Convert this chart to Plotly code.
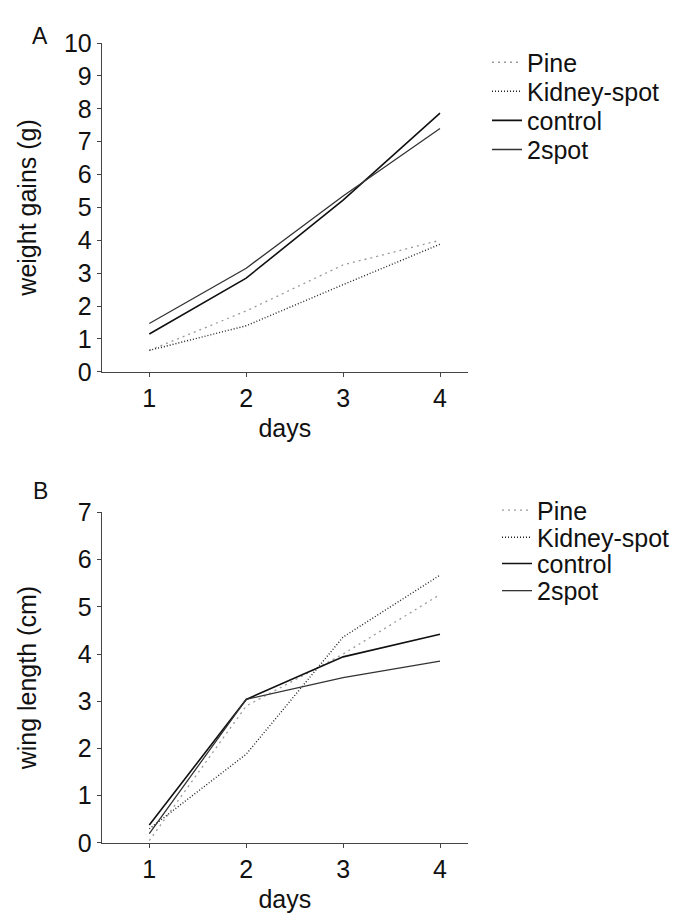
import plotly.graph_objects as go

days = [1, 2, 3, 4]
series_names = ["Pine", "Kidney-spot", "control", "2spot"]

# Panel A: weight gains (g)
weight_pine = [0.65, 1.85, 3.25, 4.0]
weight_kidney = [0.65, 1.4, 2.65, 3.88]
weight_control = [1.15, 2.85, 5.22, 7.87]
weight_2spot = [1.47, 3.15, 5.35, 7.4]

# Panel B: wing length (cm)
wing_pine = [0.05, 2.9, 4.0, 5.26]
wing_kidney = [0.3, 1.88, 4.36, 5.67]
wing_control = [0.38, 3.04, 3.94, 4.42]
wing_2spot = [0.2, 3.04, 3.5, 3.85]

y_ticks_a = list(range(0, 11))
y_ticks_b = list(range(0, 8))

FONT = "Liberation Sans, Arial, sans-serif"
FS = 25
styles = {
    "Pine": dict(color="#9a9a9a", width=1.3, dash="2px,4px"),
    "Kidney-spot": dict(color="#222222", width=1.4, dash="1px,2px"),
    "control": dict(color="#111111", width=1.6, dash="solid"),
    "2spot": dict(color="#333333", width=1.3, dash="solid"),
}

W, H = 696, 920
fig = go.Figure()

legend_y_a = [50, 80, 110, 140]
legend_y_b = [512, 540, 567, 595]
legend_layout = {}
for i, (name, vals) in enumerate(zip(series_names, [weight_pine, weight_kidney, weight_control, weight_2spot])):
    lg = "legend" if i == 0 else f"legend{i + 1}"
    fig.add_trace(go.Scatter(x=days, y=vals, mode="lines", name=name, line=styles[name],
                             xaxis="x", yaxis="y", legend=lg))
    legend_layout[lg] = dict(x=487 / W, y=1 - legend_y_a[i] / H, xanchor="left", yanchor="middle",
                             bgcolor="rgba(0,0,0,0)", font=dict(family=FONT, size=FS, color="#111111"),
                             itemwidth=30)
for i, (name, vals) in enumerate(zip(series_names, [wing_pine, wing_kidney, wing_control, wing_2spot])):
    lg = f"legend{i + 5}"
    fig.add_trace(go.Scatter(x=days, y=vals, mode="lines", name=name, line=styles[name],
                             xaxis="x2", yaxis="y2", legend=lg))
    legend_layout[lg] = dict(x=497 / W, y=1 - legend_y_b[i] / H, xanchor="left", yanchor="middle",
                             bgcolor="rgba(0,0,0,0)", font=dict(family=FONT, size=FS, color="#111111"),
                             itemwidth=30)

x_left, x_right = 101.7, 468.0
px_per_day = 96.9
x_min = 1 - (149.3 - x_left) / px_per_day
x_max = 1 + (x_right - 149.3) / px_per_day
xdom = [x_left / W, x_right / W]

axis_common = dict(showline=True, linecolor="#444444", linewidth=1, ticks="outside", ticklen=4,
                   tickcolor="#444444", showgrid=False, zeroline=False,
                   tickfont=dict(family=FONT, size=FS, color="#111111"))

fig.update_layout(
    width=W, height=H,
    margin=dict(l=0, r=0, t=0, b=0),
    paper_bgcolor="white", plot_bgcolor="white",
    font=dict(family=FONT, color="#111111"),
    xaxis=dict(domain=xdom, range=[x_min, x_max], tickvals=days, anchor="y",
               title=dict(text="days", font=dict(family=FONT, size=FS), standoff=8), **axis_common),
    yaxis=dict(domain=[1 - 369 / H, 1 - 30 / H], range=[0, 10], tickvals=y_ticks_a, anchor="x",
               title=dict(text="weight gains (g)", font=dict(family=FONT, size=FS), standoff=20),
               **axis_common),
    xaxis2=dict(domain=xdom, range=[x_min, x_max], tickvals=days, anchor="y2",
                title=dict(text="days", font=dict(family=FONT, size=FS), standoff=8), **axis_common),
    yaxis2=dict(domain=[1 - 855 / H, 1 - 514 / H], range=[0, 7], tickvals=y_ticks_b, anchor="x2",
                title=dict(text="wing length (cm)", font=dict(family=FONT, size=FS), standoff=34),
                **axis_common),
    showlegend=True,
    annotations=[
        dict(text="A", x=40 / W, y=1 - 23 / H, xref="paper", yref="paper", showarrow=False,
             font=dict(family=FONT, size=FS - 2), xanchor="center", yanchor="middle"),
        dict(text="B", x=40 / W, y=1 - 492 / H, xref="paper", yref="paper", showarrow=False,
             font=dict(family=FONT, size=FS - 2), xanchor="center", yanchor="middle"),
    ],
    **legend_layout,
)

fig.write_html("out.html")
